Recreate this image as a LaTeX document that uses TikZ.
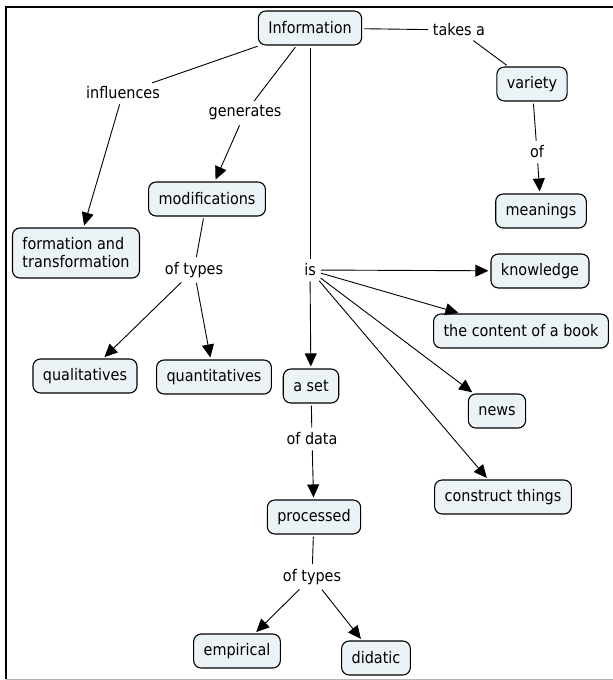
\documentclass[tikz,border=0pt]{standalone}
\usepackage{fontspec}
\setmainfont[FakeStretch=0.9]{DejaVu Sans}
\usetikzlibrary{arrows.meta}
\definecolor{boxfill}{RGB}{236,243,246}
\tikzset{
  concept/.style={draw=black, line width=1.1pt, rounded corners=7.5pt, fill=boxfill,
    inner xsep=10pt, minimum height=34pt, font=\fontsize{16}{18}\selectfont},
  lbl/.style={inner sep=3pt, font=\fontsize{16}{18}\selectfont},
  ln/.style={line width=0.9pt, shorten <=2pt, shorten >=2pt},
  arr/.style={ln, -{Triangle[length=13pt,width=12pt]}}
}
\begin{document}
\begin{tikzpicture}[x=1pt,y=-1pt]
\useasboundingbox (0,0) rectangle (613,680);
\draw[line width=1.5pt] (613,7) -- (6,7) -- (6,679);
\draw[line width=1pt, gray!60] (6,679) -- (613,679);

\node[concept] (info) at (310,28) {Information};
\node[lbl] (takes) at (459,30) {takes a};
\node[concept] (variety) at (532,84) {variety};
\node[lbl] (of) at (537,152) {of};
\node[concept] (meanings) at (541,211) {meanings};
\node[lbl] (influences) at (123,93) {influences};
\node[lbl] (generates) at (245,113) {generates};
\node[concept, align=left, minimum height=50pt] (formation) at (76,253) {formation and\\transformation};
\node[concept] (modif) at (207,199) {modifications};
\node[lbl] (types1) at (194,270) {of types};
\node[lbl] (is) at (310,270) {is};
\node[concept] (knowledge) at (540,271) {knowledge};
\node[concept] (content) at (521,331) {the content of a book};
\node[concept] (qual) at (85,376) {qualitatives};
\node[concept] (quant) at (214,377) {quantitatives};
\node[concept] (aset) at (311,386) {a set};
\node[concept] (news) at (497,411) {news};
\node[lbl] (ofdata) at (312,439) {of data};
\node[concept] (construct) at (503,497) {construct things};
\node[concept] (processed) at (314,517) {processed};
\node[lbl] (types2) at (312,577) {of types};
\node[concept] (empirical) at (237,651) {empirical};
\node[concept] (didatic) at (376,658) {didatic};

\draw[ln] (info) -- (takes);
\draw[ln] (takes) -- (variety);
\draw[ln] (variety) -- (of);
\draw[arr] (of) -- (meanings);
\draw[ln] (info) -- (influences);
\draw[arr] (influences) -- (formation);
\draw[ln] (info) -- (generates);
\draw[arr] (generates) -- (modif);
\draw[ln] (info) -- (is);
\draw[ln] (modif) -- (types1);
\draw[arr] (types1) -- (qual);
\draw[arr] (types1) -- (quant);
\draw[arr] (is) -- (knowledge);
\draw[arr] (is) -- (content);
\draw[arr] (is) -- (news);
\draw[arr] (is) -- (construct);
\draw[arr] (is) -- (aset);
\draw[ln] (aset) -- (ofdata);
\draw[arr] (ofdata) -- (processed);
\draw[ln] (processed) -- (types2);
\draw[arr] (types2) -- (empirical);
\draw[arr] (types2) -- (didatic);
\end{tikzpicture}
\end{document}
